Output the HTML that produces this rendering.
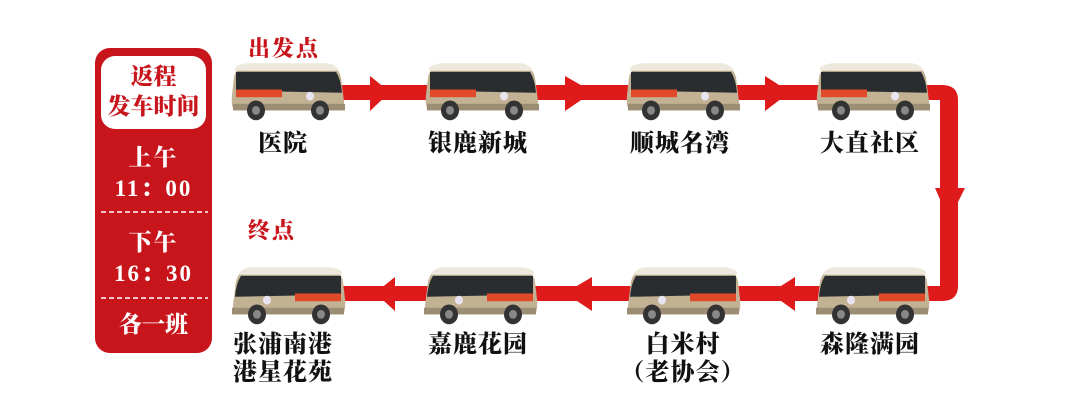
<!DOCTYPE html>
<html><head><meta charset="utf-8"><style>
body{margin:0;width:1080px;height:413px;background:#fff;overflow:hidden;position:relative;font-family:"Liberation Serif","Noto Serif CJK SC",serif}
.t{position:absolute;font-weight:900;font-size:24px;color:#111;text-align:center;width:160px;line-height:28px;letter-spacing:1px}
.r{position:absolute;font-weight:900;font-size:22px;color:#c8151b;letter-spacing:2px}
.p{position:absolute;color:#fff;font-weight:900;text-align:center;width:117px;left:95px;font-size:23px;line-height:26px}
</style></head><body>
<svg width="1080" height="413" style="position:absolute;left:0;top:0">
<defs>
<g id="bus">
<path d="M4 14 Q6 4 20 3 L98 3 Q108 4 111 14 L114 36 L114 44 L4 44 Q1 40 2 30 Z" fill="#c2b293"/>
<path d="M5 5 Q10 1 22 1 L96 1 Q106 2 109 8 L5 8 Z" fill="#eee9dc"/>
<path d="M6 9 L106 9 Q111 16 112 28 L6 26 Z" fill="#2a2d30"/>
<rect x="6" y="25" width="46" height="7" fill="#e04a2a"/>
<circle cx="80" cy="31" r="4" fill="#e8e4f0"/>
<rect x="3" y="38" width="112" height="6" fill="#9b8e74"/>
<circle cx="26" cy="44" r="9" fill="#333"/><circle cx="26" cy="44" r="4" fill="#888"/>
<circle cx="90" cy="44" r="9" fill="#333"/><circle cx="90" cy="44" r="4" fill="#888"/>
</g>
</defs>
<rect x="95" y="48" width="117" height="305" rx="15" fill="#c8151b"/>
<rect x="101" y="56" width="105" height="73" rx="14" fill="#fff"/>
<line x1="101" y1="212" x2="208" y2="212" stroke="#fff" stroke-width="1.5" stroke-dasharray="5 3"/>
<line x1="101" y1="298" x2="208" y2="298" stroke="#fff" stroke-width="1.5" stroke-dasharray="5 3"/>
<path d="M300 85 L942 85 Q958 85 958 100 L958 286 Q958 301 942 301 L290 301 L290 286 L940 286 L940 100 L300 100 Z" fill="#de1a1a"/>
<polygon points="370,76 390,92 370,111" fill="#de1a1a"/>
<polygon points="565,76 593,92 565,111" fill="#de1a1a"/>
<polygon points="765,76 790,92 765,111" fill="#de1a1a"/>
<polygon points="935,188 965,188 949,220" fill="#de1a1a"/>
<polygon points="375,293 395,277 395,311" fill="#de1a1a"/>
<polygon points="565,293 592,277 592,311" fill="#de1a1a"/>
<polygon points="770,293 795,277 795,311" fill="#de1a1a"/>
<use href="#bus" transform="translate(230,62) scale(1,1.1)"/>
<use href="#bus" transform="translate(424,62) scale(1,1.1)"/>
<use href="#bus" transform="translate(625,62) scale(1,1.1)"/>
<use href="#bus" transform="translate(815,62) scale(1,1.1)"/>
<use href="#bus" transform="translate(347,266) scale(-1,1.1)"/>
<use href="#bus" transform="translate(539,266) scale(-1,1.1)"/>
<use href="#bus" transform="translate(742,266) scale(-1,1.1)"/>
<use href="#bus" transform="translate(931,266) scale(-1,1.1)"/>
</svg>
<div class="p" style="top:62px;color:#c8151b;font-size:23px;line-height:30px">返程<br>发车时间</div>
<div class="p" style="top:142px;line-height:31px;letter-spacing:2px">上午<br>11：00</div>
<div class="p" style="top:227px;line-height:31px;letter-spacing:2px">下午<br>16：30</div>
<div class="p" style="top:312px;font-size:23px">各一班</div>
<div class="r" style="left:248px;top:32px">出发点</div>
<div class="r" style="left:248px;top:214px">终点</div>
<div class="t" style="left:203px;top:130px">医院</div>
<div class="t" style="left:398px;top:130px">银鹿新城</div>
<div class="t" style="left:600px;top:130px">顺城名湾</div>
<div class="t" style="left:790px;top:130px">大直社区</div>
<div class="t" style="left:203px;top:331px">张浦南港<br>港星花苑</div>
<div class="t" style="left:398px;top:331px">嘉鹿花园</div>
<div class="t" style="left:603px;top:331px">白米村<br>（老协会）</div>
<div class="t" style="left:790px;top:331px">森隆满园</div>
</body></html>
